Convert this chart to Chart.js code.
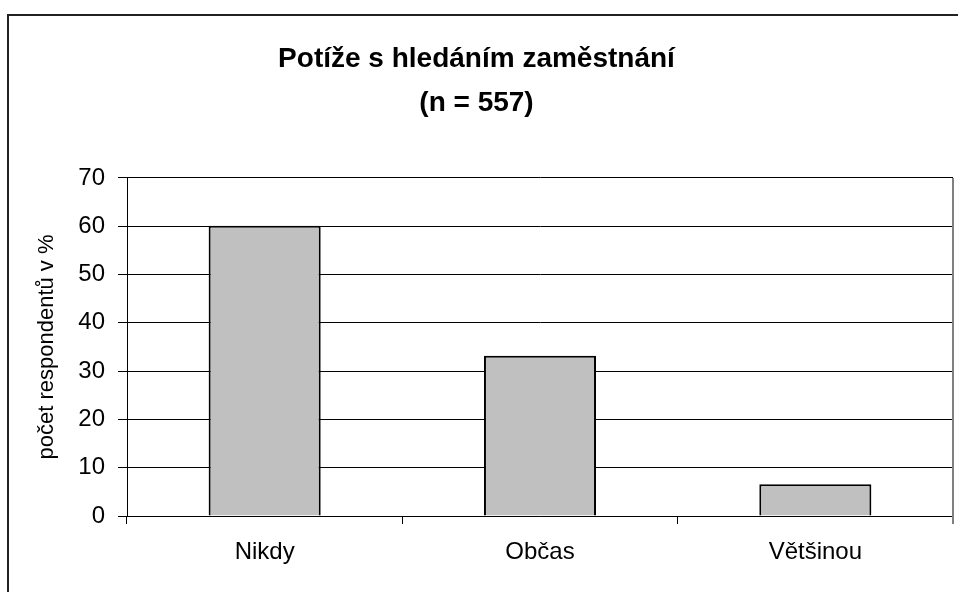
<!DOCTYPE html>
<html>
<head>
<meta charset="utf-8">
<script src="https://cdn.jsdelivr.net/npm/chart.js@4"></script>
<style>
  html, body { margin: 0; padding: 0; background: #fff; }
  #wrap { width: 958px; height: 592px; }
</style>
</head>
<body>
<div id="wrap"><canvas id="graf" width="958" height="592"></canvas></div>
<script>
const kategorie = ['Nikdy', 'Občas', 'Většinou'];
const hodnoty = [60.1, 33.2, 6.6];
const titulek = ['Potíže s hledáním zaměstnání', '(n = 557)'];
const popisekY = 'počet respondentů v %';

const pismo = "'Liberation Sans', Arial, sans-serif";

// ramecek grafu a okraj plochy
const ramecek = {
    id: 'ramecek',
    beforeDraw(chart) {
        const c = chart.ctx;
        c.save();
        c.fillStyle = '#fff';
        c.fillRect(0, 0, chart.width, chart.height);
        c.strokeStyle = '#222';
        c.lineWidth = 2;
        c.beginPath();
        c.moveTo(8, chart.height);
        c.lineTo(8, 15);
        c.lineTo(chart.width, 15);
        c.stroke();
        c.restore();
    },
    afterDatasetsDraw(chart) {
        const a = chart.chartArea;
        const c = chart.ctx;
        c.save();
        c.strokeStyle = '#808080';
        c.lineWidth = 2;
        c.beginPath();
        c.moveTo(a.right, a.top);
        c.lineTo(a.right, a.bottom + 8);
        c.stroke();
        c.restore();
    }
};

new Chart(document.getElementById('graf'), {
    type: 'bar',
    data: {
        labels: kategorie,
        datasets: [{
            data: hodnoty,
            backgroundColor: '#c0c0c0',
            borderColor: '#000',
            borderWidth: 2,
            barPercentage: 0.407,
            categoryPercentage: 1
        }]
    },
    options: {
        responsive: false,
        animation: false,
        layout: { padding: { left: 0, right: 5, top: 0, bottom: 0 } },
        plugins: {
            legend: { display: false },
            tooltip: { enabled: false },
            title: {
                display: true,
                text: titulek,
                color: '#000',
                font: { family: pismo, size: 28, weight: 'bold', lineHeight: 1.571 },
                padding: { top: 37, bottom: 53 }
            }
        },
        scales: {
            x: {
                offset: true,
                grid: { offset: true, drawOnChartArea: false, color: '#000', tickLength: 8, lineWidth: 1 },
                border: { color: '#000', width: 1 },
                ticks: { color: '#000', font: { family: pismo, size: 24 }, padding: 14, maxRotation: 0 },
                afterFit(s) { s.height = 76; }
            },
            y: {
                min: 0,
                max: 70,
                ticks: { stepSize: 10, color: '#000', font: { family: pismo, size: 24 }, padding: 13 },
                grid: { color: '#000', lineWidth: 1, tickLength: 9 },
                border: { color: '#000', width: 1 },
                title: {
                    display: true,
                    text: popisekY,
                    color: '#000',
                    font: { family: pismo, size: 22 },
                    padding: { top: 34, bottom: 0 }
                },
                afterFit(s) { s.width = 127; }
            }
        }
    },
    plugins: [ramecek]
});
</script>
</body>
</html>
